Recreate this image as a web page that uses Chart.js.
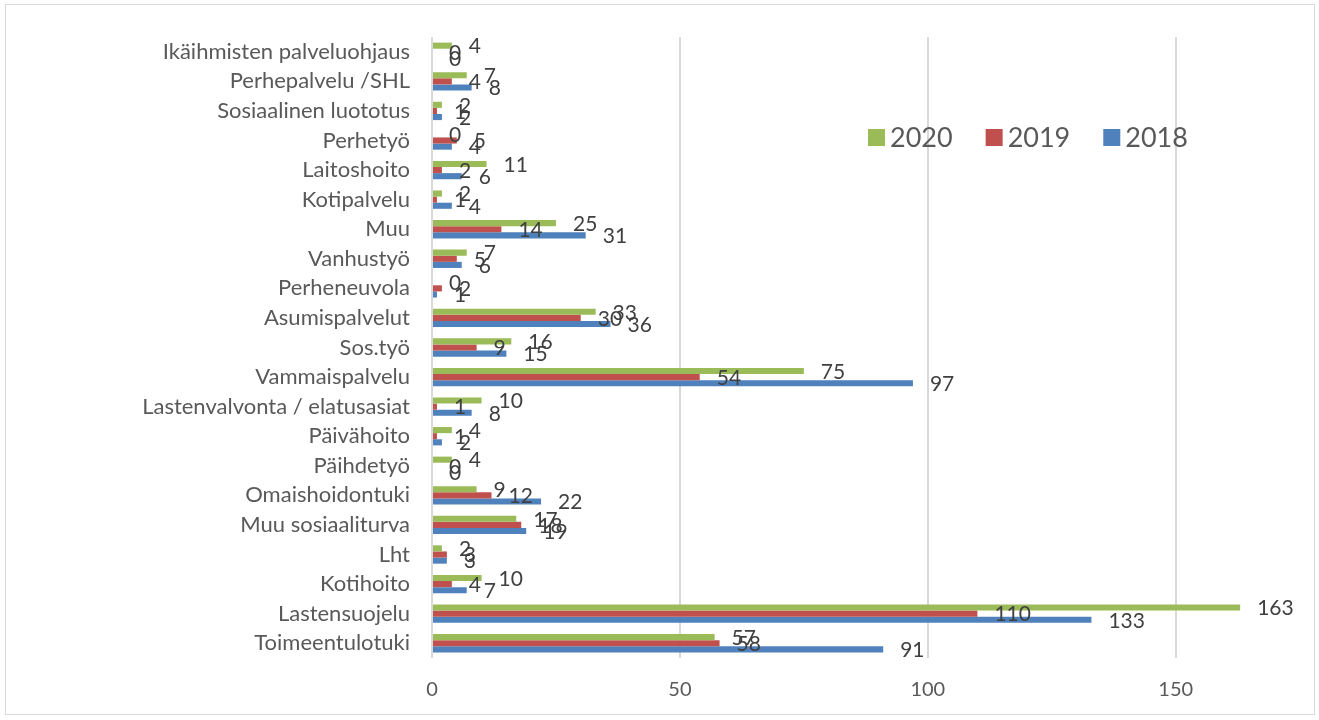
<!DOCTYPE html>
<html lang="fi">
<head>
<meta charset="utf-8">
<title>Palvelut 2018–2020</title>
<script src="https://cdn.jsdelivr.net/npm/chart.js@4.4.0/dist/chart.umd.min.js"></script>
<style>
  html, body { margin: 0; padding: 0; background: #fff; }
  #wrap { width: 1319px; height: 720px; position: relative; }
</style>
</head>
<body>
<div id="wrap"><canvas id="chart" width="1319" height="720"></canvas></div>
<script>
// categories listed top to bottom
const categories = [
  'Ikäihmisten palveluohjaus',
  'Perhepalvelu /SHL',
  'Sosiaalinen luototus',
  'Perhetyö',
  'Laitoshoito',
  'Kotipalvelu',
  'Muu',
  'Vanhustyö',
  'Perheneuvola',
  'Asumispalvelut',
  'Sos.työ',
  'Vammaispalvelu',
  'Lastenvalvonta / elatusasiat',
  'Päivähoito',
  'Päihdetyö',
  'Omaishoidontuki',
  'Muu sosiaaliturva',
  'Lht',
  'Kotihoito',
  'Lastensuojelu',
  'Toimeentulotuki',
];

const years = ['2020', '2019', '2018'];
const values2020 = [4, 7, 2, 0, 11, 2, 25, 7, 0, 33, 16, 75, 10, 4, 4, 9, 17, 2, 10, 163, 57];
const values2019 = [0, 4, 1, 5, 2, 1, 14, 5, 2, 30, 9, 54, 1, 1, 0, 12, 18, 3, 4, 110, 58];
const values2018 = [0, 8, 2, 4, 6, 4, 31, 6, 1, 36, 15, 97, 8, 2, 0, 22, 19, 3, 7, 133, 91];
const xTicks = [0, 50, 100, 150];

const COLORS = ['#9BBB59', '#C0504D', '#4F81BD'];
const FONT = 'Lato';
const TEXT = '#595959';

// value labels at the end of each bar
const barLabels = {
  id: 'barLabels',
  afterDatasetsDraw(chart) {
    const ctx = chart.ctx;
    ctx.save();
    ctx.font = `21px ${FONT}`;
    ctx.fillStyle = '#404040';
    ctx.textAlign = 'left';
    ctx.textBaseline = 'middle';
    chart.data.datasets.forEach((ds, i) => {
      chart.getDatasetMeta(i).data.forEach((bar, j) => {
        ctx.fillText(String(ds.data[j]), bar.x + 17, bar.y + 1);
      });
    });
    ctx.restore();
  }
};

// legend inside the plot, upper right
const insideLegend = {
  id: 'insideLegend',
  afterDraw(chart) {
    const ctx = chart.ctx;
    ctx.save();
    ctx.font = `27px ${FONT}`;
    ctx.textBaseline = 'middle';
    let x = 868;
    const y = 137;
    chart.data.datasets.forEach(ds => {
      ctx.fillStyle = ds.backgroundColor;
      ctx.fillRect(x, y - 8, 17, 17);
      x += 22;
      ctx.fillStyle = TEXT;
      ctx.fillText(ds.label, x, y + 1);
      x += ctx.measureText(ds.label).width + 33;
    });
    ctx.restore();
  }
};

// thin frame round the whole chart
const frame = {
  id: 'frame',
  afterDraw(chart) {
    const ctx = chart.ctx;
    ctx.save();
    ctx.strokeStyle = '#d9d9d9';
    ctx.lineWidth = 1;
    ctx.strokeRect(5.5, 4.5, 1309, 710);
    ctx.restore();
  }
};

new Chart(document.getElementById('chart'), {
  type: 'bar',
  data: {
    labels: categories,
    datasets: [
      { label: years[0], data: values2020, backgroundColor: COLORS[0] },
      { label: years[1], data: values2019, backgroundColor: COLORS[1] },
      { label: years[2], data: values2018, backgroundColor: COLORS[2] },
    ],
  },
  options: {
    indexAxis: 'y',
    responsive: false,
    animation: false,
    categoryPercentage: 0.62,
    barPercentage: 1.0,
    layout: { padding: { top: 37, right: 59, bottom: 0, left: 0 } },
    plugins: {
      legend: { display: false },
      tooltip: { enabled: false },
    },
    scales: {
      x: {
        min: 0,
        max: 167,
        afterBuildTicks: scale => { scale.ticks = xTicks.map(v => ({ value: v })); },
        afterFit: scale => { scale.height = 62; },
        ticks: { color: TEXT, font: { family: FONT, size: 20 }, padding: 20 },
        grid: { color: '#d9d9d9', lineWidth: 2, drawTicks: false },
        border: { display: false },
      },
      y: {
        afterFit: scale => { scale.width = 432; },
        ticks: { color: TEXT, font: { family: FONT, size: 22 }, padding: 22, autoSkip: false },
        grid: { display: false, drawTicks: false },
        border: { display: false },
      },
    },
  },
  plugins: [barLabels, insideLegend, frame],
});
</script>
</body>
</html>
